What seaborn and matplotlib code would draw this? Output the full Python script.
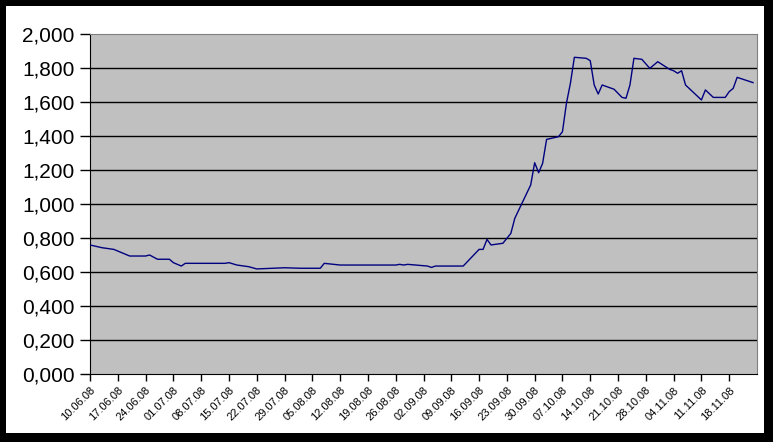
import pandas as pd
import matplotlib
matplotlib.use('Agg')
import matplotlib.pyplot as plt
from matplotlib.patches import Rectangle
import seaborn as sns

# Dati (data, valore)
date = ['10.06.08', '13.06.08', '16.06.08', '20.06.08', '24.06.08', '25.06.08',
        '27.06.08', '30.06.08', '01.07.08', '03.07.08', '04.07.08', '14.07.08',
        '15.07.08', '17.07.08', '20.07.08', '22.07.08', '29.07.08', '02.08.08',
        '07.08.08', '08.08.08', '12.08.08', '26.08.08', '27.08.08', '28.08.08',
        '29.08.08', '03.09.08', '04.09.08', '05.09.08', '12.09.08', '16.09.08',
        '17.09.08', '18.09.08', '19.09.08', '22.09.08', '24.09.08', '25.09.08',
        '26.09.08', '29.09.08', '30.09.08', '01.10.08', '02.10.08', '03.10.08',
        '06.10.08', '07.10.08', '08.10.08', '09.10.08', '10.10.08', '13.10.08',
        '14.10.08', '15.10.08', '16.10.08', '17.10.08', '20.10.08', '22.10.08',
        '23.10.08', '24.10.08', '25.10.08', '27.10.08', '29.10.08', '31.10.08',
        '03.11.08', '04.11.08', '05.11.08', '06.11.08', '07.11.08', '11.11.08',
        '12.11.08', '14.11.08', '17.11.08', '18.11.08', '19.11.08', '20.11.08',
        '24.11.08']
valori = [0.759, 0.743, 0.733, 0.694, 0.694, 0.700,
          0.675, 0.675, 0.655, 0.635, 0.651, 0.651,
          0.655, 0.641, 0.631, 0.618, 0.625, 0.622,
          0.622, 0.651, 0.641, 0.641, 0.645, 0.641,
          0.645, 0.635, 0.627, 0.635, 0.635, 0.733,
          0.733, 0.792, 0.759, 0.769, 0.827, 0.916,
          0.965, 1.112, 1.243, 1.184, 1.239, 1.380,
          1.396, 1.425, 1.592, 1.710, 1.863, 1.857,
          1.843, 1.700, 1.647, 1.700, 1.675, 1.627,
          1.622, 1.700, 1.857, 1.851, 1.798, 1.837,
          1.792, 1.784, 1.769, 1.784, 1.700, 1.612,
          1.671, 1.627, 1.627, 1.661, 1.680, 1.745,
          1.714]
etichette_x = ['10.06.08', '17.06.08', '24.06.08', '01.07.08', '08.07.08', '15.07.08',
               '22.07.08', '29.07.08', '05.08.08', '12.08.08', '19.08.08', '26.08.08',
               '02.09.08', '09.09.08', '16.09.08', '23.09.08', '30.09.08', '07.10.08',
               '14.10.08', '21.10.08', '28.10.08', '04.11.08', '11.11.08', '18.11.08']
etichette_y = [0.0, 0.2, 0.4, 0.6, 0.8, 1.0, 1.2, 1.4, 1.6, 1.8, 2.0]

df = pd.DataFrame({'Data': pd.to_datetime(date, format='%d.%m.%y'), 'Valore': valori})

plt.rcParams['font.family'] = ['Liberation Sans', 'DejaVu Sans']

fig = plt.figure(figsize=(7.73, 4.42), dpi=100, facecolor='black')
# cornice bianca interna
fig.patches.append(Rectangle((6 / 773, 1 - 433 / 442), 758 / 773, 427 / 442,
                             transform=fig.transFigure, facecolor='white',
                             edgecolor='none', zorder=-10))
ax = fig.add_axes([90 / 773, 1 - 374 / 442, 667 / 773, 340 / 442])
ax.set_facecolor('#c0c0c0')

sns.lineplot(data=df, x='Data', y='Valore', ax=ax, color='#000080', linewidth=1, zorder=3)

# griglia orizzontale nera
for v in etichette_y[1:-1]:
    ax.axhline(v, color='black', linewidth=1, zorder=1)

ax.set_ylim(0, 2)
ax.set_yticks(etichette_y)
ax.set_yticklabels([f'{v:.3f}'.replace('.', ',') for v in etichette_y], fontsize=15)

tick_x = pd.to_datetime(etichette_x, format='%d.%m.%y')
ax.set_xlim(pd.Timestamp('2008-06-10'), pd.Timestamp('2008-11-25'))
ax.set_xticks(tick_x)
ax.set_xticklabels(etichette_x, rotation=45, ha='right', rotation_mode='anchor', fontsize=8)

ax.tick_params(axis='y', length=7, width=1, color='black', pad=4)
ax.tick_params(axis='x', length=5, width=1, color='black', pad=3)

ax.set_xlabel('')
ax.set_ylabel('')
ax.spines['top'].set_color('#808080')
ax.spines['right'].set_color('#808080')
ax.spines['left'].set_color('black')
ax.spines['bottom'].set_color('black')

fig.savefig('out.png', dpi=100, facecolor='black')
